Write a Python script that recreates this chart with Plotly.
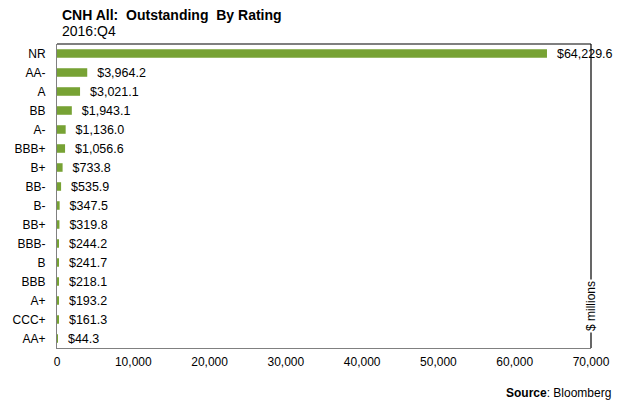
import plotly.graph_objects as go

ratings = ['NR', 'AA-', 'A', 'BB', 'A-', 'BBB+', 'B+', 'BB-', 'B-', 'BB+',
           'BBB-', 'B', 'BBB', 'A+', 'CCC+', 'AA+']
outstanding = [64229.6, 3964.2, 3021.1, 1943.1, 1136.0, 1056.6, 733.8, 535.9,
               347.5, 319.8, 244.2, 241.7, 218.1, 193.2, 161.3, 44.3]
x_ticks = [0, 10000, 20000, 30000, 40000, 50000, 60000, 70000]

font = 'Liberation Sans, Arial, sans-serif'

# page has an 8px body margin, so the figure is laid out shifted by 8px
L, T, PW, PH = 49, 36, 534, 304


def px(x):
    return (x - 8 - L) / PW


def py(y):
    return 1 - (y - 8 - T) / PH


fig = go.Figure(go.Bar(
    x=outstanding, y=ratings, orientation='h',
    marker=dict(color='#77A234', line=dict(width=0)),
    width=0.45,
    text=['\u00a0\u00a0$' + f'{v:,.1f}' for v in outstanding],
    textposition='outside', cliponaxis=False, constraintext='none',
    textfont=dict(family=font, size=12.5, color='#000000'),
))

fig.update_layout(
    width=622, height=403,
    margin=dict(l=L, r=622 - L - PW, t=T, b=403 - T - PH, autoexpand=False),
    paper_bgcolor='white', plot_bgcolor='white',
    showlegend=False,
    font=dict(family=font, size=12, color='#000000'),
    xaxis=dict(range=[0, 70000], tickvals=x_ticks,
               ticktext=[f'{v:,}' for v in x_ticks],
               tickfont=dict(family=font, size=12),
               showgrid=False, zeroline=False,
               showline=True, linecolor='#808080', linewidth=1,
               ticks='', ticklabelstandoff=3),
    yaxis=dict(categoryorder='array', categoryarray=ratings[::-1],
               autorange=False, range=[-0.5, 15.5],
               tickfont=dict(family=font, size=12),
               showgrid=False, zeroline=False,
               showline=True, linecolor='#808080', linewidth=1,
               ticks='', ticklabelstandoff=8),
)

# black top and right frame
fig.add_shape(type='line', xref='paper', yref='paper', x0=0, x1=1, y0=1, y1=1,
              line=dict(color='black', width=1.2))
fig.add_shape(type='line', xref='paper', yref='paper', x0=1, x1=1, y0=0, y1=1,
              line=dict(color='black', width=1.2))

fig.add_annotation(xref='paper', yref='paper', x=1, y=py(306), text='$ millions',
                   textangle=-90, showarrow=False, bgcolor='white',
                   font=dict(family=font, size=12), xanchor='center', yanchor='middle')

fig.add_annotation(xref='paper', yref='paper', x=px(61), y=py(15),
                   xanchor='left', yanchor='middle', showarrow=False, borderpad=0,
                   text='<b>CNH All:  Outstanding  By Rating</b>',
                   font=dict(family=font, size=14))
fig.add_annotation(xref='paper', yref='paper', x=px(61), y=py(31),
                   xanchor='left', yanchor='middle', showarrow=False, borderpad=0,
                   text='2016:Q4', font=dict(family=font, size=14))
fig.add_annotation(xref='paper', yref='paper', x=px(613), y=py(393),
                   xanchor='right', yanchor='middle', showarrow=False,
                   text='<b>Source</b>: Bloomberg', font=dict(family=font, size=12))

fig.write_html('out.html')
